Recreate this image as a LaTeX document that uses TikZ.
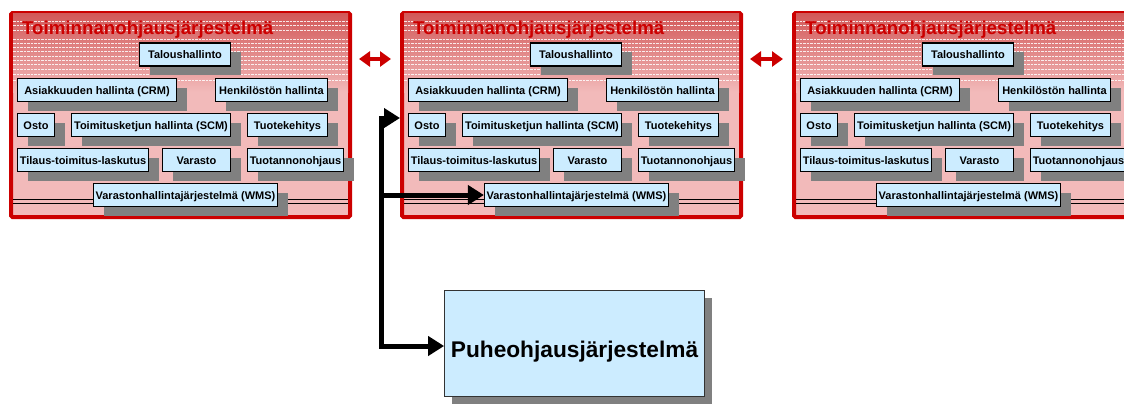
\documentclass[tikz,border=0pt]{standalone}
\usepackage{fontspec}
\setmainfont{Liberation Sans}
\usetikzlibrary{arrows.meta,shadows,calc}
\definecolor{frame}{RGB}{204,0,0}
\definecolor{boxfill}{RGB}{204,236,255}
\definecolor{shadowgray}{RGB}{128,128,128}
\definecolor{bgtop}{RGB}{210,88,88}
\definecolor{bgbot}{RGB}{242,186,186}
\tikzset{
  panel/.style={draw=frame, line width=4pt, rounded corners=1.5pt,
    minimum width=339pt, minimum height=204pt, inner sep=0pt, fill=bgbot},
  paneltitle/.style={text=frame, font=\fontsize{18.7}{20}\selectfont\bfseries,
    anchor=base west, inner sep=0pt},
  band/.style={white, line width=0.8pt, dash pattern=on 2.5pt off 1pt, opacity=0.85},
  seam/.style={black, line width=0.45pt},
  unit/.style={draw=black, line width=1.2pt, fill=boxfill, inner sep=0pt,
    minimum height=23pt, text height=8pt, text depth=0pt,
    font=\fontsize{11}{13}\selectfont\bfseries,
    drop shadow={shadow xshift=10pt, shadow yshift=-9pt, fill=shadowgray, opacity=1}},
  bigunit/.style={draw=black!80, line width=0.8pt, fill=boxfill, inner sep=0pt,
    minimum width=260pt, minimum height=106pt, text height=28pt, text depth=0pt,
    font=\fontsize{22.7}{26}\selectfont\bfseries,
    drop shadow={shadow xshift=7pt, shadow yshift=-7pt, fill=shadowgray, opacity=1}},
  wire/.style={line width=5pt, black, line join=miter},
  wiretip/.tip={Triangle[length=16pt,width=19pt]},
  link/.style={line width=4pt, frame,
    {Triangle[length=11pt,width=15pt]}-{Triangle[length=11pt,width=15pt]},
    shorten <=7pt, shorten >=9pt},
}
\begin{document}
\begin{tikzpicture}[x=1pt, y=-1pt]
\useasboundingbox (0,0) rectangle (1124,408);
\clip (0,0) rectangle (1124,408);
\fill[white] (0,0) rectangle (1124,408);

% three copies of the enterprise system panel
\foreach \i/\dx in {1/0, 2/391, 3/783} {
  \begin{scope}[xshift=\dx pt]
    \node[panel] (p\i) at (180.5,115) {};
    % darker band behind the heading, fading into the pink body
    \shade[top color=bgtop, bottom color=bgbot] (13,13) rectangle (348,92);
    \foreach \yy in {21,25,30,39,43,47,51,56,60,64,69,74,80}
      \draw[band] (13,\yy) -- (348,\yy);
    \foreach \yy in {199,203}
      \draw[seam] (13,\yy) -- (348,\yy);
    \node[paneltitle] (t\i) at (22,34) {Toiminnanohjausjärjestelmä};
    \node[unit, minimum width=91pt]  (talous\i) at (185,54.5) {Taloushallinto};
    \node[unit, minimum width=159pt] (crm\i)    at (97,90)    {Asiakkuuden hallinta (CRM)};
    \node[unit, minimum width=112pt] (hr\i)     at (271.5,90) {Henkilöstön hallinta};
    \node[unit, minimum width=37pt]  (osto\i)   at (36,125)   {Osto};
    \node[unit, minimum width=159pt] (scm\i)    at (151,125)  {Toimitusketjun hallinta (SCM)};
    \node[unit, minimum width=80pt]  (tk\i)     at (287.5,125){Tuotekehitys};
    \node[unit, minimum width=131pt] (tilaus\i) at (83,160)   {Tilaus-toimitus-laskutus};
    \node[unit, minimum width=68pt]  (varasto\i)at (196.5,160){Varasto};
    \node[unit, minimum width=96pt]  (tuot\i)   at (295.5,160){Tuotannonohjaus};
    \node[unit, minimum width=184pt] (wms\i)    at (185.5,195){Varastonhallintajärjestelmä (WMS)};
  \end{scope}
}

% integration links between neighbouring panels
\coordinate (linky) at (0,59);
\draw[link] (p1.east |- linky) -- (p2.west |- linky);
\draw[link] (p2.east |- linky) -- (p3.west |- linky);

% voice-picking system and its connections
\node[bigunit] (puhe) at (574.5,343.5) {Puheohjausjärjestelmä};
\coordinate (jt) at (381,118);
\coordinate (jm) at (381,195);
\coordinate (jb) at (381,346);
\draw[wire, {wiretip}-{wiretip}] (jt -| p2.west) -- (jt) -- (jb) -- (jb -| puhe.west);
\draw[wire, -{wiretip}] (jm) -- (wms2.west);
\end{tikzpicture}
\end{document}
